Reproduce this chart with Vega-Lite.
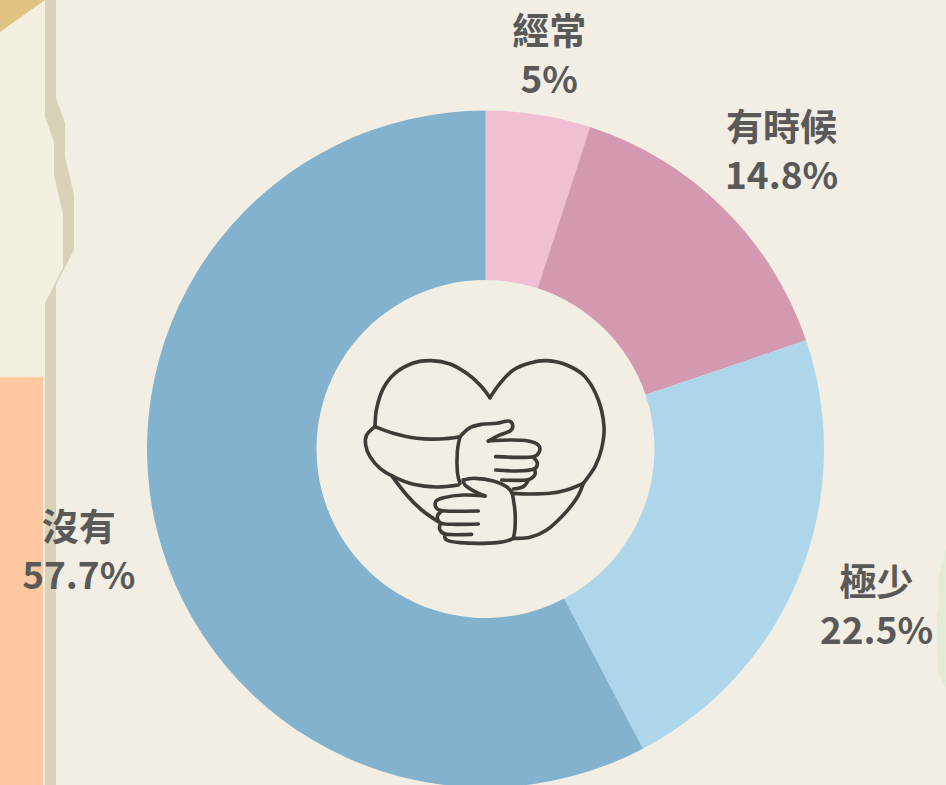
{"$schema":"https://vega.github.io/schema/vega-lite/v6.json","width":946,"height":785,"padding":0,"autosize":{"type":"none"},"background":"#f2eee3","config":{"view":{"stroke":null}},
"datasets":{
"slices":[{"cat":"經常","value":5,"ord":1,"label":"經常\n5%"},{"cat":"有時候","value":14.8,"ord":2,"label":"有時候\n14.8%"},{"cat":"極少","value":22.5,"ord":3,"label":"極少\n22.5%"},{"cat":"沒有","value":57.7,"ord":4,"label":"沒有\n57.7%"}],
"shadow":[{"y":0,"e":56},{"y":98,"e":56},{"y":123,"e":65},{"y":157,"e":65},{"y":195,"e":74},{"y":250,"e":74},{"y":285,"e":56},{"y":785,"e":56}],
"paper":[{"y":0,"e":45},{"y":117,"e":45},{"y":142,"e":54},{"y":175,"e":54},{"y":215,"e":63},{"y":268,"e":63},{"y":303,"e":45},{"y":785,"e":45}],
"gold":[{"y":0,"e":45},{"y":32,"e":0}],
"orange":[{"y":377,"e":43},{"y":785,"e":43}],
"green":[{"y":548,"e":946},{"y":580,"e":938},{"y":608,"e":939},{"y":612,"e":937},{"y":672,"e":938},{"y":688,"e":946}],
"icon":[
{"p":"a","i":0,"x":75,"y":245},{"p":"a","i":1,"x":80,"y":190},{"p":"a","i":2,"x":100,"y":130},{"p":"a","i":3,"x":135,"y":85},{"p":"a","i":4,"x":190,"y":54},{"p":"a","i":5,"x":245,"y":47},{"p":"a","i":6,"x":300,"y":57},{"p":"a","i":7,"x":350,"y":85},{"p":"a","i":8,"x":390,"y":120},{"p":"a","i":9,"x":420,"y":158},
{"p":"b","i":0,"x":420,"y":158},{"p":"b","i":1,"x":450,"y":115},{"p":"b","i":2,"x":490,"y":75},{"p":"b","i":3,"x":540,"y":54},{"p":"b","i":4,"x":590,"y":47},{"p":"b","i":5,"x":650,"y":60},{"p":"b","i":6,"x":705,"y":95},{"p":"b","i":7,"x":745,"y":165},{"p":"b","i":8,"x":762,"y":245},{"p":"b","i":9,"x":755,"y":310},{"p":"b","i":10,"x":735,"y":365},{"p":"b","i":11,"x":700,"y":415},
{"p":"c","i":0,"x":75,"y":245},{"p":"c","i":1,"x":130,"y":265},{"p":"c","i":2,"x":200,"y":280},{"p":"c","i":3,"x":270,"y":282},{"p":"c","i":4,"x":330,"y":275},
{"p":"d","i":0,"x":75,"y":245},{"p":"d","i":1,"x":50,"y":270},{"p":"d","i":2,"x":47,"y":300},{"p":"d","i":3,"x":60,"y":335},{"p":"d","i":4,"x":90,"y":370},{"p":"d","i":5,"x":130,"y":395},{"p":"d","i":6,"x":190,"y":418},{"p":"d","i":7,"x":260,"y":426},{"p":"d","i":8,"x":325,"y":420},
{"p":"e","i":0,"x":125,"y":392},{"p":"e","i":1,"x":170,"y":450},{"p":"e","i":2,"x":215,"y":495},{"p":"e","i":3,"x":265,"y":530},
{"p":"f","i":0,"x":330,"y":275},{"p":"f","i":1,"x":322,"y":320},{"p":"f","i":2,"x":322,"y":380},{"p":"f","i":3,"x":330,"y":415},
{"p":"g","i":0,"x":330,"y":275},{"p":"g","i":1,"x":360,"y":248},{"p":"g","i":2,"x":395,"y":238},{"p":"g","i":3,"x":440,"y":235},{"p":"g","i":4,"x":475,"y":228},{"p":"g","i":5,"x":488,"y":240},{"p":"g","i":6,"x":480,"y":258},{"p":"g","i":7,"x":445,"y":272},{"p":"g","i":8,"x":415,"y":288},
{"p":"h","i":0,"x":415,"y":288},{"p":"h","i":1,"x":480,"y":285},{"p":"h","i":2,"x":535,"y":288},{"p":"h","i":3,"x":565,"y":300},{"p":"h","i":4,"x":568,"y":320},{"p":"h","i":5,"x":550,"y":335},{"p":"h","i":6,"x":500,"y":337},{"p":"h","i":7,"x":437,"y":335},
{"p":"i","i":0,"x":550,"y":337},{"p":"i","i":1,"x":562,"y":355},{"p":"i","i":2,"x":552,"y":372},{"p":"i","i":3,"x":500,"y":378},{"p":"i","i":4,"x":437,"y":375},
{"p":"j","i":0,"x":555,"y":378},{"p":"j","i":1,"x":553,"y":392},{"p":"j","i":2,"x":530,"y":405},{"p":"j","i":3,"x":455,"y":405},
{"p":"k","i":0,"x":535,"y":405},{"p":"k","i":1,"x":520,"y":425},{"p":"k","i":2,"x":490,"y":432},
{"p":"l","i":0,"x":340,"y":405},{"p":"l","i":1,"x":375,"y":400},{"p":"l","i":2,"x":430,"y":408},{"p":"l","i":3,"x":470,"y":425},{"p":"l","i":4,"x":487,"y":445},
{"p":"l2","i":0,"x":340,"y":405},{"p":"l2","i":1,"x":345,"y":420},{"p":"l2","i":2,"x":375,"y":440},{"p":"l2","i":3,"x":405,"y":453},
{"p":"m","i":0,"x":405,"y":453},{"p":"m","i":1,"x":340,"y":450},{"p":"m","i":2,"x":280,"y":458},{"p":"m","i":3,"x":257,"y":470},{"p":"m","i":4,"x":260,"y":490},{"p":"m","i":5,"x":285,"y":498},{"p":"m","i":6,"x":385,"y":498},
{"p":"n","i":0,"x":275,"y":498},{"p":"n","i":1,"x":262,"y":515},{"p":"n","i":2,"x":275,"y":535},{"p":"n","i":3,"x":320,"y":538},{"p":"n","i":4,"x":385,"y":537},
{"p":"o","i":0,"x":270,"y":540},{"p":"o","i":1,"x":270,"y":555},{"p":"o","i":2,"x":290,"y":568},{"p":"o","i":3,"x":365,"y":568},
{"p":"q","i":0,"x":285,"y":570},{"p":"q","i":1,"x":290,"y":585},{"p":"q","i":2,"x":330,"y":593},{"p":"q","i":3,"x":400,"y":595},{"p":"q","i":4,"x":460,"y":590},{"p":"q","i":5,"x":490,"y":580},
{"p":"r","i":0,"x":487,"y":445},{"p":"r","i":1,"x":495,"y":500},{"p":"r","i":2,"x":495,"y":550},{"p":"r","i":3,"x":490,"y":580},
{"p":"s","i":0,"x":487,"y":445},{"p":"s","i":1,"x":540,"y":447},{"p":"s","i":2,"x":600,"y":445},{"p":"s","i":3,"x":650,"y":435},{"p":"s","i":4,"x":700,"y":415},
{"p":"t","i":0,"x":490,"y":580},{"p":"t","i":1,"x":540,"y":577},{"p":"t","i":2,"x":590,"y":555},{"p":"t","i":3,"x":640,"y":510},{"p":"t","i":4,"x":680,"y":460},{"p":"t","i":5,"x":700,"y":415}
]},
"resolve":{"scale":{"x":"independent","y":"independent"}},
"layer":[
{"layer":[
{"data":{"name":"shadow"},"mark":{"type":"area","orient":"horizontal","color":"#d8d2b9"},"encoding":{"y":{"field":"y","type":"quantitative"},"x":{"field":"e","type":"quantitative"},"x2":{"datum":40}}},
{"data":{"name":"paper"},"mark":{"type":"area","orient":"horizontal","color":"#f4f0e0"},"encoding":{"y":{"field":"y","type":"quantitative"},"x":{"field":"e","type":"quantitative"},"x2":{"datum":0}}},
{"data":{"name":"gold"},"mark":{"type":"area","orient":"horizontal","color":"#e0c383"},"encoding":{"y":{"field":"y","type":"quantitative"},"x":{"field":"e","type":"quantitative"},"x2":{"datum":0}}},
{"data":{"name":"orange"},"mark":{"type":"area","orient":"horizontal","color":"#ffc8a0"},"encoding":{"y":{"field":"y","type":"quantitative"},"x":{"field":"e","type":"quantitative"},"x2":{"datum":0}}},
{"data":{"name":"green"},"mark":{"type":"area","orient":"horizontal","color":"#e1ebd6"},"encoding":{"y":{"field":"y","type":"quantitative"},"x":{"field":"e","type":"quantitative"},"x2":{"datum":946}}},
{"data":{"name":"slices"},"mark":{"type":"arc","outerRadius":338.5,"innerRadius":169},"encoding":{"x":{"datum":485.5,"type":"quantitative"},"y":{"datum":449,"type":"quantitative"},"theta":{"field":"value","type":"quantitative","stack":true,"scale":{"domain":[0,100]}},"order":{"field":"ord","type":"quantitative"},"color":{"field":"cat","type":"nominal","legend":null,"scale":{"domain":["經常","有時候","極少","沒有"],"range":["#f0bfd4","#d399b0","#add6eb","#82b2cd"]}}}},
{"data":{"name":"slices"},"mark":{"type":"text","radius":420,"dx":-2,"dy":0,"font":"Noto Sans CJK TC","fontWeight":"bold","fontSize":37,"color":"#595959","lineBreak":"\n","lineHeight":48,"baseline":"middle"},"encoding":{"x":{"datum":485.5,"type":"quantitative"},"y":{"datum":449,"type":"quantitative"},"theta":{"field":"value","type":"quantitative","stack":true,"scale":{"domain":[0,100]}},"order":{"field":"ord","type":"quantitative"},"text":{"condition":{"test":"datum.ord === 1","field":"label"},"value":""}}},
{"data":{"name":"slices"},"mark":{"type":"text","radius":420,"dx":1,"dy":-20,"font":"Noto Sans CJK TC","fontWeight":"bold","fontSize":37,"color":"#595959","lineBreak":"\n","lineHeight":48,"baseline":"middle"},"encoding":{"x":{"datum":485.5,"type":"quantitative"},"y":{"datum":449,"type":"quantitative"},"theta":{"field":"value","type":"quantitative","stack":true,"scale":{"domain":[0,100]}},"order":{"field":"ord","type":"quantitative"},"text":{"condition":{"test":"datum.ord > 1","field":"label"},"value":""}}}
],"encoding":{"x":{"scale":{"domain":[0,946],"range":[0,946],"nice":false,"zero":false},"axis":null,"title":null},"y":{"scale":{"domain":[0,785],"range":[0,785],"nice":false,"zero":false},"axis":null,"title":null}}},
{"data":{"name":"icon"},"mark":{"type":"line","interpolate":"cardinal","color":"#3f3c37","strokeWidth":3.6,"strokeCap":"round","strokeJoin":"round"},"encoding":{"x":{"field":"x","type":"quantitative","axis":null,"scale":{"domain":[0,810],"range":[350,620],"nice":false,"zero":false}},"y":{"field":"y","type":"quantitative","axis":null,"scale":{"domain":[0,630],"range":[345,555],"nice":false,"zero":false}},"detail":{"field":"p"},"order":{"field":"i","type":"quantitative"}}}
]}
